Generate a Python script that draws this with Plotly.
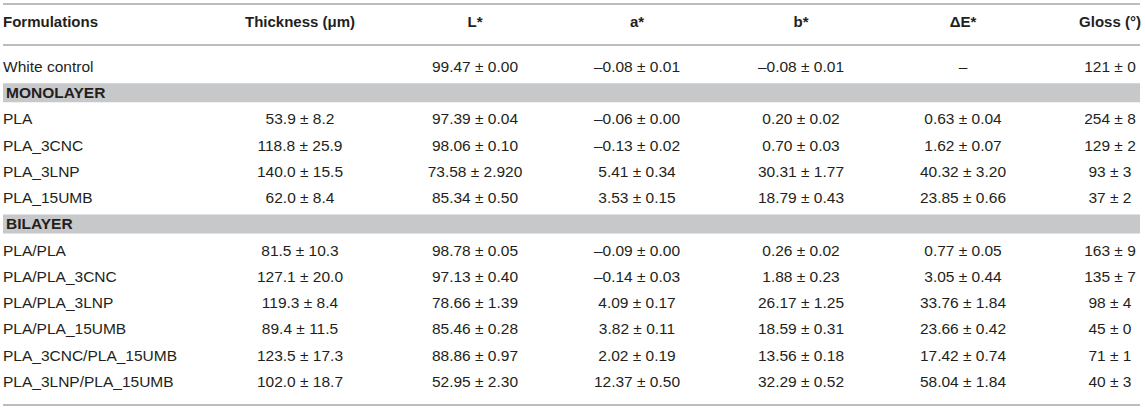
import plotly.graph_objects as go

# table values
headers = ["Formulations", "Thickness (μm)", "L*", "a*", "b*", "ΔE*", "Gloss (°)"]

formulations = ["White control", "MONOLAYER", "PLA", "PLA_3CNC", "PLA_3LNP", "PLA_15UMB",
                "BILAYER", "PLA/PLA", "PLA/PLA_3CNC", "PLA/PLA_3LNP", "PLA/PLA_15UMB",
                "PLA_3CNC/PLA_15UMB", "PLA_3LNP/PLA_15UMB"]
thickness = ["", "", "53.9 ± 8.2", "118.8 ± 25.9", "140.0 ± 15.5", "62.0 ± 8.4",
             "", "81.5 ± 10.3", "127.1 ± 20.0", "119.3 ± 8.4", "89.4 ± 11.5",
             "123.5 ± 17.3", "102.0 ± 18.7"]
l_star = ["99.47 ± 0.00", "", "97.39 ± 0.04", "98.06 ± 0.10", "73.58 ± 2.920", "85.34 ± 0.50",
          "", "98.78 ± 0.05", "97.13 ± 0.40", "78.66 ± 1.39", "85.46 ± 0.28",
          "88.86 ± 0.97", "52.95 ± 2.30"]
a_star = ["–0.08 ± 0.01", "", "–0.06 ± 0.00", "–0.13 ± 0.02", "5.41 ± 0.34", "3.53 ± 0.15",
          "", "–0.09 ± 0.00", "–0.14 ± 0.03", "4.09 ± 0.17", "3.82 ± 0.11",
          "2.02 ± 0.19", "12.37 ± 0.50"]
b_star = ["–0.08 ± 0.01", "", "0.20 ± 0.02", "0.70 ± 0.03", "30.31 ± 1.77", "18.79 ± 0.43",
          "", "0.26 ± 0.02", "1.88 ± 0.23", "26.17 ± 1.25", "18.59 ± 0.31",
          "13.56 ± 0.18", "32.29 ± 0.52"]
delta_e = ["–", "", "0.63 ± 0.04", "1.62 ± 0.07", "40.32 ± 3.20", "23.85 ± 0.66",
           "", "0.77 ± 0.05", "3.05 ± 0.44", "33.76 ± 1.84", "23.66 ± 0.42",
           "17.42 ± 0.74", "58.04 ± 1.84"]
gloss = ["121 ± 0", "", "254 ± 8", "129 ± 2", "93 ± 3", "37 ± 2",
         "", "163 ± 9", "135 ± 7", "98 ± 4", "45 ± 0",
         "71 ± 1", "40 ± 3"]
sections = ["MONOLAYER", "BILAYER"]

# layout (pixels)
W, H = 1145, 410
row0, row_h = 68, 26.25
col_x = [3, 300, 475, 637, 801, 963, 1110]
left, right = 3, 1140
txt_color = "#231f20"
line_color = "#bdbdbd"
band_color = "#c7c8ca"
font_family = "Liberation Sans, Arial, sans-serif"
font_size = 15.5


def py(pix):
    # pixel -> row units
    return (pix - row0) / row_h


columns = [formulations, thickness, l_star, a_star, b_star, delta_e, gloss]
rows = list(range(len(formulations)))

fig = go.Figure()

for c, (vals, x) in enumerate(zip(columns, col_x)):
    labels = []
    xs = []
    for i, v in enumerate(vals):
        if c == 0 and formulations[i] in sections:
            labels.append("<b>" + v + "</b>")
            xs.append(x + 3)
        else:
            labels.append(v)
            xs.append(x)
    fig.add_trace(go.Scatter(
        x=xs, y=rows, mode="text", text=labels,
        textposition="middle right" if c == 0 else "middle center",
        textfont=dict(family=font_family, size=font_size, color=txt_color),
        hoverinfo="skip", showlegend=False,
    ))
    fig.add_trace(go.Scatter(
        x=[x], y=[py(23)], mode="text", text=["<b>" + headers[c] + "</b>"],
        textposition="middle right" if c == 0 else "middle center",
        textfont=dict(family=font_family, size=15, color=txt_color),
        hoverinfo="skip", showlegend=False,
    ))

shapes = []
for i, f in enumerate(formulations):
    if f in sections:
        shapes.append(dict(type="rect", xref="x", yref="y", x0=left, x1=right,
                           y0=i - 0.42, y1=i + 0.30, fillcolor=band_color,
                           line=dict(width=0), layer="below"))
for pix in [4, 45, 405]:
    shapes.append(dict(type="line", xref="x", yref="y", x0=left, x1=right,
                       y0=py(pix), y1=py(pix), line=dict(color=line_color, width=2)))

fig.update_layout(
    width=W, height=H,
    margin=dict(l=0, r=0, t=0, b=0),
    paper_bgcolor="white", plot_bgcolor="white",
    xaxis=dict(range=[0, W], visible=False, fixedrange=True),
    yaxis=dict(range=[py(H), py(0)], visible=False, fixedrange=True),
    shapes=shapes,
)

fig.write_html("out.html", config={"displayModeBar": False},
               post_script="document.body.style.margin='0px';")
